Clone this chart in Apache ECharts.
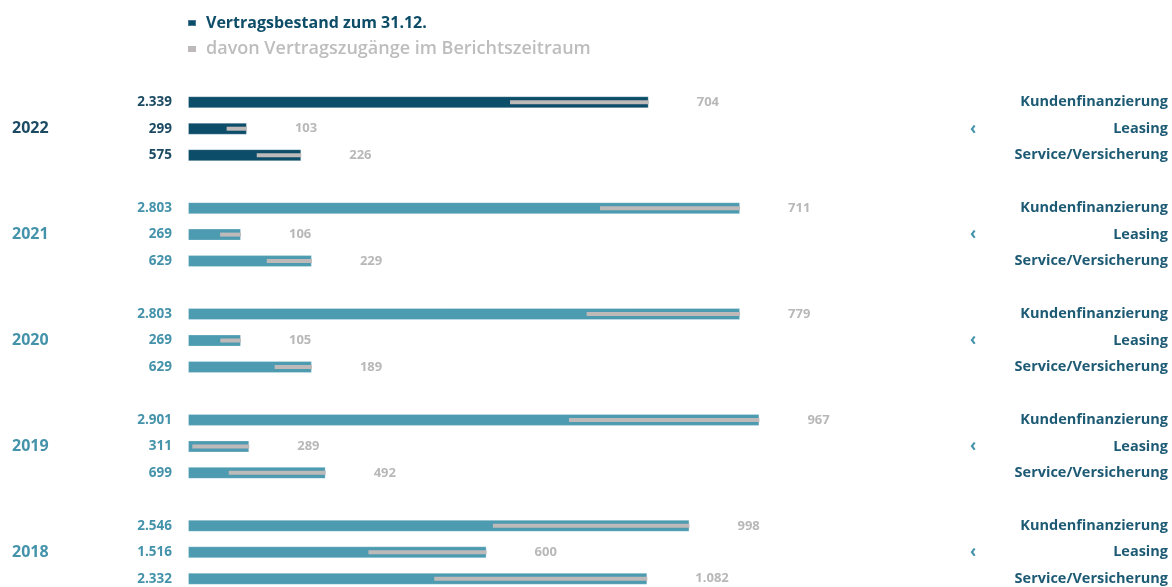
<!DOCTYPE html>
<html>
<head>
<meta charset="utf-8">
<script src="https://cdn.jsdelivr.net/npm/echarts@6/dist/echarts.min.js"></script>
<style>
html,body{margin:0;padding:0;background:#fff;overflow:hidden;}
#c{width:1172px;height:595px;}
</style>
</head>
<body>
<div id="c"></div>
<script>
// ---- data ----
var years = ['2022', '2021', '2020', '2019', '2018'];
var segments = ['Kundenfinanzierung', 'Leasing', 'Service/Versicherung'];
var bestand2022 = [2339, 299, 575];
var bestand2021 = [2803, 269, 629];
var bestand2020 = [2803, 269, 629];
var bestand2019 = [2901, 311, 699];
var bestand2018 = [2546, 1516, 2332];
var zugang2022 = [704, 103, 226];
var zugang2021 = [711, 106, 229];
var zugang2020 = [779, 105, 189];
var zugang2019 = [967, 289, 492];
var zugang2018 = [998, 600, 1082];
var legendNames = ['Vertragsbestand zum 31.12.', 'davon Vertragszugänge im Berichtszeitraum'];

var bestand = [bestand2022, bestand2021, bestand2020, bestand2019, bestand2018];
var zugang = [zugang2022, zugang2021, zugang2020, zugang2019, zugang2018];

function fmt(n) { return String(n).replace(/\B(?=(\d{3})+(?!\d))/g, '.'); }

var DARK = '#0c4d6a', TEAL = '#4d9bb0';
var FONT = 'Open Sans';
var rows = [];   // row info per category slot
years.forEach(function (y, gi) {
  segments.forEach(function (s, si) {
    rows.push({ year: y, yi: gi, seg: s, si: si, b: bestand[gi][si], z: zugang[gi][si] });
  });
  if (gi < years.length - 1) rows.push(null);
});
var cats = rows.map(function (r, i) { return r ? r.year + ' ' + r.seg : 'gap' + i; });

var mainData = rows.map(function (r) {
  if (!r) return '-';
  return { value: r.b, itemStyle: { color: r.yi === 0 ? DARK : TEAL } };
});
var baseData = rows.map(function (r) { return r ? r.b - r.z : '-'; });
var greyData = rows.map(function (r) { return r ? r.z : '-'; });

var chart = echarts.init(document.getElementById('c'));
chart.setOption({
  animation: false,
  textStyle: { fontFamily: FONT },
  legend: {
    orient: 'vertical', left: 182, top: 10, itemWidth: 8, itemHeight: 6, itemGap: 9,
    icon: 'rect',
    textStyle: { fontSize: 16, fontWeight: 'bold', fontFamily: FONT, padding: [0, 0, 0, 5] },
    data: [
      { name: legendNames[0], textStyle: { color: '#0e4d68', fontSize: 16, fontWeight: 'bold' } },
      { name: legendNames[1], textStyle: { color: '#bdbdbd', fontSize: 18, fontWeight: 600 } }
    ]
  },
  grid: { left: 188, right: 206, top: 89, bottom: 3, containLabel: false },
  xAxis: { type: 'value', min: 0, max: 3950, show: false },
  yAxis: [
    {
      type: 'category', inverse: true, data: cats, position: 'left',
      axisLine: { show: false }, axisTick: { show: false }, splitLine: { show: false },
      axisLabel: {
        interval: 0, margin: 16,
        formatter: function (v, i) {
          var r = rows[i];
          if (!r) return '';
          var k = r.yi === 0 ? '1' : '2';
          var val = '{v' + k + '|' + fmt(r.b) + '}';
          if (r.si === 1) return '{y' + k + '|' + r.year + '}' + val;
          return val;
        },
        rich: {
          y1: { width: 120, align: 'left', fontSize: 16, fontWeight: 'bold', color: '#1b4a62', fontFamily: FONT },
          y2: { width: 120, align: 'left', fontSize: 16, fontWeight: 'bold', color: '#4593aa', fontFamily: FONT },
          v1: { width: 40, align: 'right', fontSize: 13.5, fontWeight: 'bold', color: '#1b4a62', fontFamily: FONT },
          v2: { width: 40, align: 'right', fontSize: 13.5, fontWeight: 'bold', color: '#4593aa', fontFamily: FONT }
        }
      }
    },
    {
      type: 'category', inverse: true, data: cats, position: 'right',
      axisLine: { show: false }, axisTick: { show: false }, splitLine: { show: false },
      axisLabel: {
        interval: 0, margin: 4,
        formatter: function (v, i) {
          var r = rows[i];
          if (!r) return '';
          return '{c|' + (r.si === 1 ? '‹' : ' ') + '}{n|' + r.seg + '}';
        },
        rich: {
          c: { width: 16, align: 'left', fontSize: 17, fontWeight: 'bold', color: '#4593aa', fontFamily: FONT },
          n: { width: 182, align: 'right', fontSize: 14.5, fontWeight: 'bold', color: '#1d5a74', fontFamily: FONT }
        }
      }
    }
  ],
  series: [
    {
      name: legendNames[0], type: 'bar', yAxisIndex: 0, barWidth: 12,
      itemStyle: { color: DARK, borderColor: 'rgba(255,255,255,0.25)', borderWidth: 1 },
      data: mainData,
      label: {
        show: true, position: 'right', distance: 48,
        fontSize: 13, fontWeight: 'bold', color: '#b8b8b8', fontFamily: FONT,
        formatter: function (p) { var r = rows[p.dataIndex]; return r ? fmt(r.z) : ''; }
      }
    },
    {
      name: 'base', type: 'bar', stack: 'z', yAxisIndex: 1, barWidth: 4, silent: true,
      itemStyle: { color: 'rgba(0,0,0,0)' }, data: baseData
    },
    {
      name: legendNames[1], type: 'bar', stack: 'z', yAxisIndex: 1, barWidth: 4,
      itemStyle: { color: '#bfbaba' }, data: greyData
    }
  ]
});
</script>
</body>
</html>
